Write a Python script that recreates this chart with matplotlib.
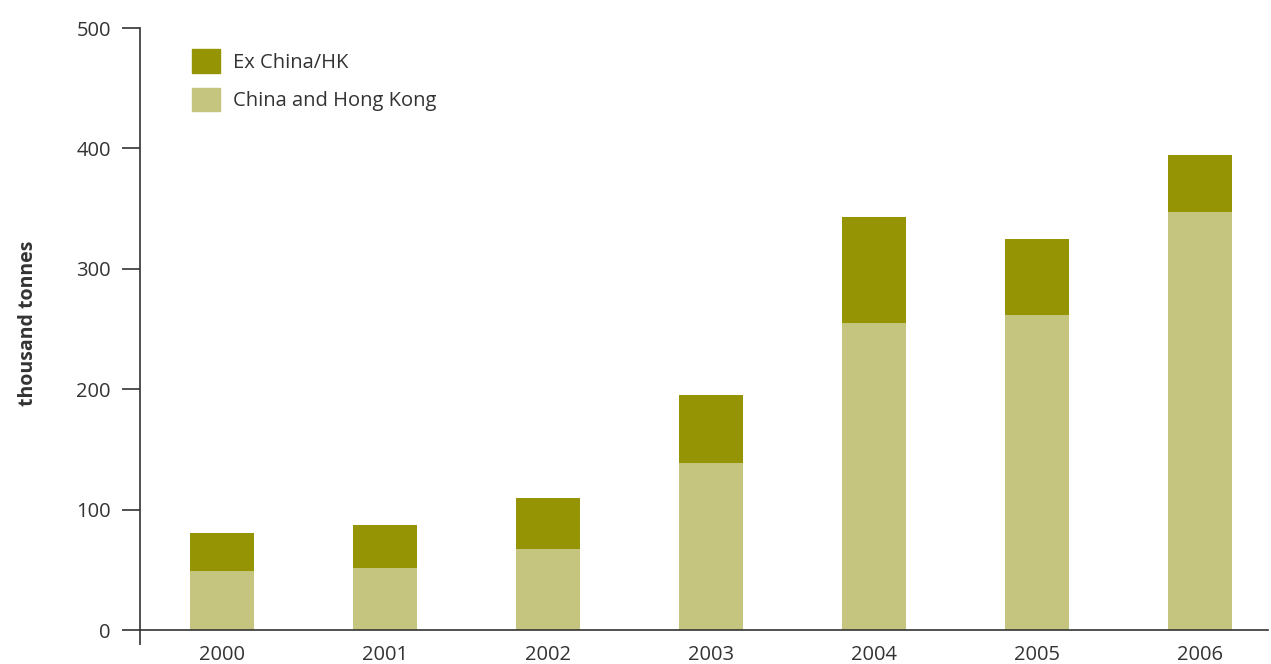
import matplotlib
matplotlib.use("Agg")
import matplotlib.pyplot as plt
from matplotlib.patches import Patch

years = ["2000", "2001", "2002", "2003", "2004", "2005", "2006"]
china_hk = [49, 51.5, 67, 139, 255, 261.5, 347]
ex_china = [31.5, 35.5, 42.5, 56, 88, 63, 47.5]

c_china = "#c5c580"
c_ex = "#949405"
txt = "#333333"

plt.rcParams['font.family'] = ['Open Sans', 'DejaVu Sans']
fs = 14.5

fig = plt.figure(figsize=(12.71, 6.64), dpi=100)
ax = fig.add_axes([140/1271, (664-630)/664, (1268-140)/1271, (630-28)/664])

x = list(range(len(years)))
w = 0.393
ax.bar(x, china_hk, width=w, color=c_china, label="China and Hong Kong", zorder=2)
ax.bar(x, ex_china, width=w, bottom=china_hk, color=c_ex, label="Ex China/HK", zorder=2)

ax.set_xlim(-0.503, 6.42)
ax.set_ylim(0, 500)
ax.set_yticks([0, 100, 200, 300, 400, 500])
ax.set_xticks(x)
ax.set_xticklabels(years)
ax.tick_params(axis='x', length=0, pad=11, labelsize=fs, colors=txt)
ax.tick_params(axis='y', length=13, width=1.2, direction='out', pad=8, labelsize=fs, colors=txt)
ax.set_xticks([-0.503], minor=True)
ax.tick_params(axis='x', which='minor', length=11, width=1.2, direction='out', color=txt)

for s in ['top', 'right']:
    ax.spines[s].set_visible(False)
for s in ['left', 'bottom']:
    ax.spines[s].set_color(txt)
    ax.spines[s].set_linewidth(1.2)
ax.spines['bottom'].set_zorder(3)

ax.set_ylabel("thousand tonnes", fontsize=14, fontweight='bold', color=txt, labelpad=26)
ax.yaxis.set_label_coords(-102/1128, 0.51)

handles = [Patch(color=c_ex, label="Ex China/HK"), Patch(color=c_china, label="China and Hong Kong")]
leg = ax.legend(handles=handles, loc='upper left', bbox_to_anchor=(192/1271, (664-49)/664),
                bbox_transform=fig.transFigure, frameon=False, fontsize=fs,
                handlelength=1.39, handleheight=1.43, labelspacing=0.75, handletextpad=0.65,
                borderpad=0, borderaxespad=0)
for t in leg.get_texts():
    t.set_color(txt)

fig.savefig("out.png", dpi=100)
